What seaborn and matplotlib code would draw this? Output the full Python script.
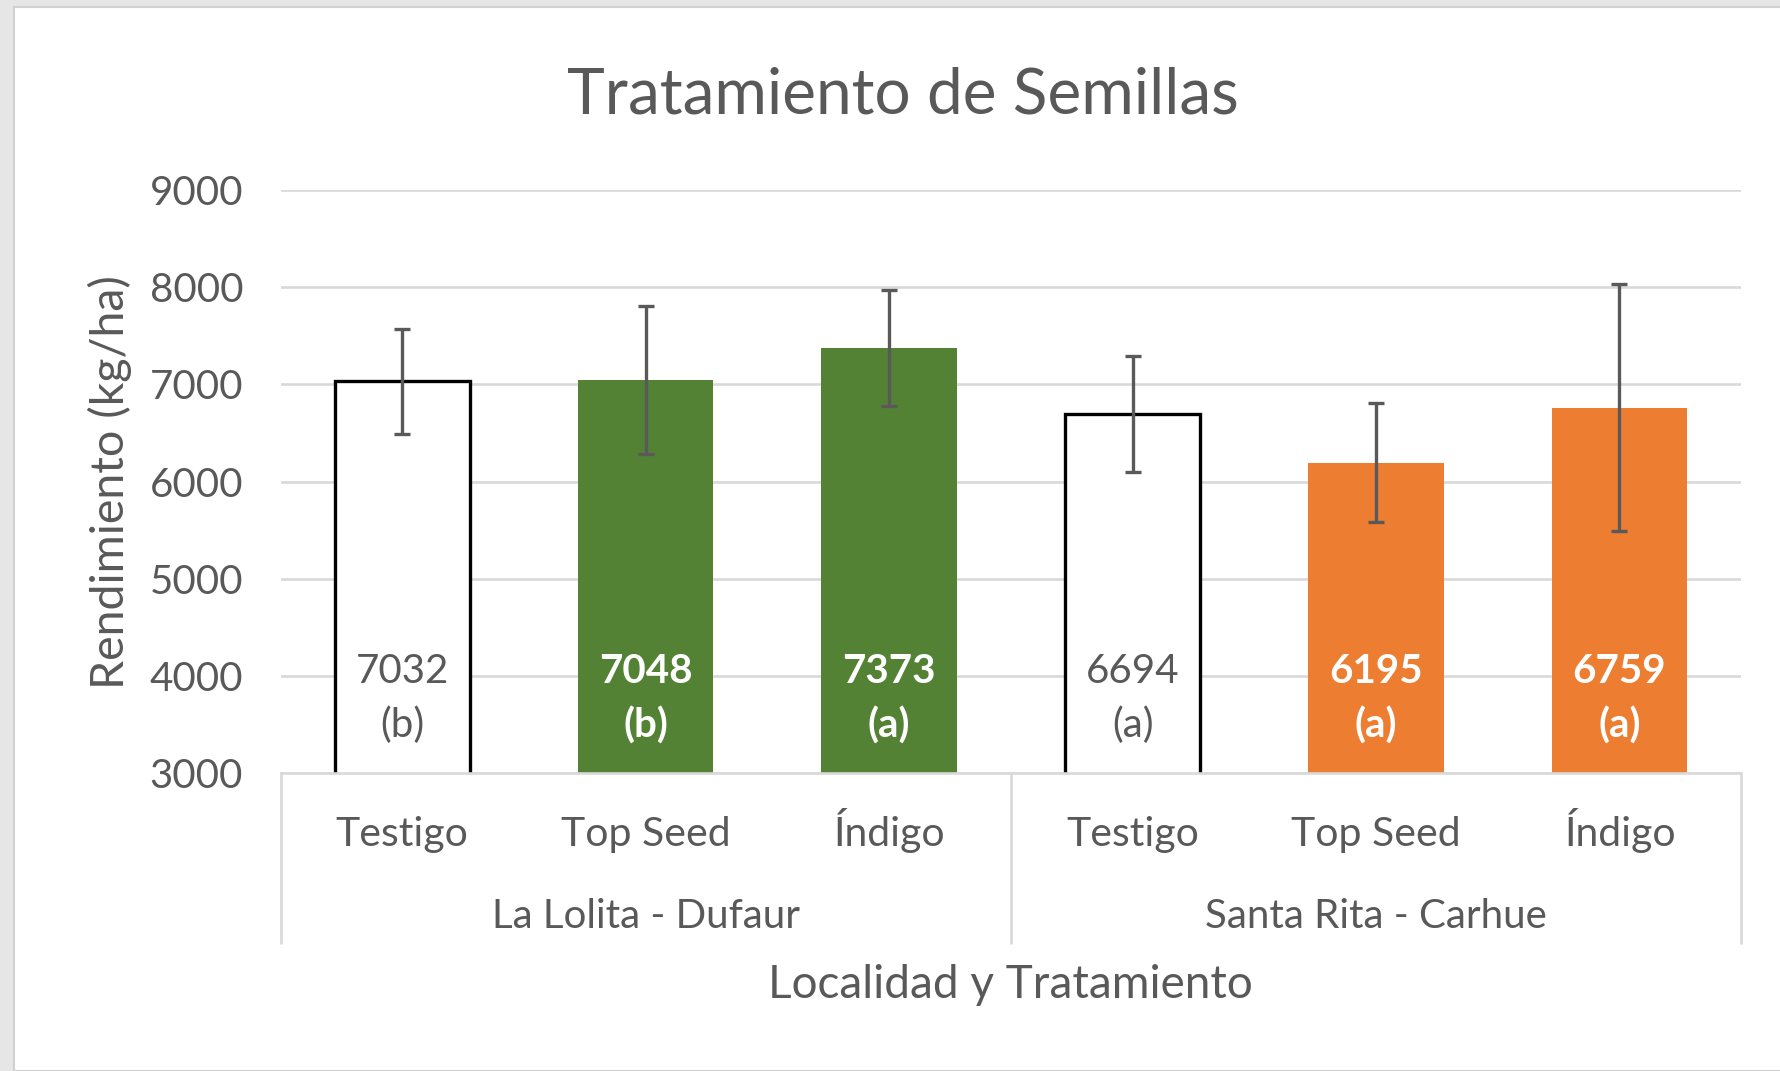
import numpy as np
import pandas as pd
import matplotlib
matplotlib.use('Agg')
import matplotlib.pyplot as plt
from matplotlib.patches import Rectangle
import seaborn as sns

# Datos
localidades = ['La Lolita - Dufaur', 'Santa Rita - Carhue']
tratamientos = ['Testigo', 'Top Seed', 'Índigo']
rendimiento = [7032, 7048, 7373, 6694, 6195, 6759]
desvio = [540, 760, 600, 600, 610, 1270]
letras = ['b', 'b', 'a', 'a', 'a', 'a']
y_ticks = [3000, 4000, 5000, 6000, 7000, 8000, 9000]

df = pd.DataFrame({
    'localidad': np.repeat(localidades, len(tratamientos)),
    'tratamiento': tratamientos * len(localidades),
    'rendimiento': rendimiento,
    'desvio': desvio,
    'letra': letras,
})
df['barra'] = df['localidad'] + ' | ' + df['tratamiento']
df['grupo'] = np.where(df['tratamiento'] == 'Testigo', 'Testigo', df['localidad'])

paleta = {'Testigo': '#FFFFFF', 'La Lolita - Dufaur': '#548235', 'Santa Rita - Carhue': '#ED7D31'}
gris = '#595959'
gris_linea = '#D9D9D9'

sns.set_style('white')
plt.rcParams['font.family'] = ['Lato', 'DejaVu Sans']

fig = plt.figure(figsize=(17.81, 10.71), dpi=100, facecolor='#E6E6E6')
# area del grafico (fondo blanco con borde)
fig.patches.append(Rectangle((14 / 1781, 0), 1, 1 - 7 / 1071, transform=fig.transFigure,
                             facecolor='white', edgecolor='#D0D0D0', linewidth=1.5, zorder=-10))

ax = fig.add_axes([0.1575, 0.2778, 0.8201, 0.5451])
ax.set_facecolor('none')

sns.barplot(data=df, x='barra', y='rendimiento', hue='grupo', palette=paleta, saturation=1,
            width=0.556, dodge=False, legend=False, errorbar=None, linewidth=0, ax=ax)

for p in ax.patches:
    if p.get_facecolor()[:3] == (1.0, 1.0, 1.0):
        p.set_edgecolor('black')
        p.set_linewidth(2.4)

ax.errorbar(np.arange(len(df)), df['rendimiento'], yerr=df['desvio'], fmt='none',
            ecolor=gris, elinewidth=2.4, capsize=5.5, capthick=2.4, zorder=4)

# etiquetas de valor dentro de la base de cada barra
for i, fila in df.iterrows():
    testigo = fila['tratamiento'] == 'Testigo'
    ax.text(i, 3770, f"{fila['rendimiento']}\n({fila['letra']})", ha='center', va='center',
            fontsize=29, linespacing=1.55, color=gris if testigo else 'white',
            fontweight='normal' if testigo else 'bold', zorder=5)

ax.set_ylim(3000, 9000)
ax.set_xlim(-0.5, len(df) - 0.5)
ax.set_yticks(y_ticks)
ax.set_axisbelow(True)
ax.yaxis.grid(True, color=gris_linea, linewidth=1.9)
ax.xaxis.grid(False)
sns.despine(ax=ax, left=True, bottom=False)
ax.spines['bottom'].set_color(gris_linea)
ax.spines['bottom'].set_linewidth(1.9)
ax.spines['bottom'].set_zorder(6)

ax.tick_params(axis='y', length=0, pad=27, labelsize=29, labelcolor=gris)
ax.set_xticks(range(len(df)), labels=[''] * len(df))
ax.tick_params(axis='x', length=0)

# eje de categorias en dos niveles
xt = ax.get_xaxis_transform()
for i, trat in enumerate(df['tratamiento']):
    ax.text(i, -0.124, trat, transform=xt, ha='center', va='baseline', fontsize=29.5, color=gris)
for x in [-0.5, 2.5, 5.5]:
    ax.axvline(x, ymin=-0.29, ymax=0, color=gris_linea, linewidth=1.9, clip_on=False)
for j, loc in enumerate(localidades):
    ax.text(j * 3 + 1, -0.245, loc, transform=xt, ha='center', va='center',
            fontsize=29, color=gris)

ax.set_xlabel('Localidad y Tratamiento', fontsize=33, color=gris)
ax.xaxis.set_label_coords(0.5, -0.362)
ax.xaxis.label.set_va('center')
ax.set_ylabel('Rendimiento (kg/ha)', fontsize=33.5, color=gris)
ax.yaxis.set_label_coords(-0.117, 0.5)
ax.yaxis.label.set_va('center')

fig.text(0.507, 1 - 96 / 1071, 'Tratamiento de Semillas', ha='center', va='center',
         fontsize=46, color=gris)

fig.savefig('out.png', dpi=100, facecolor=fig.get_facecolor())
